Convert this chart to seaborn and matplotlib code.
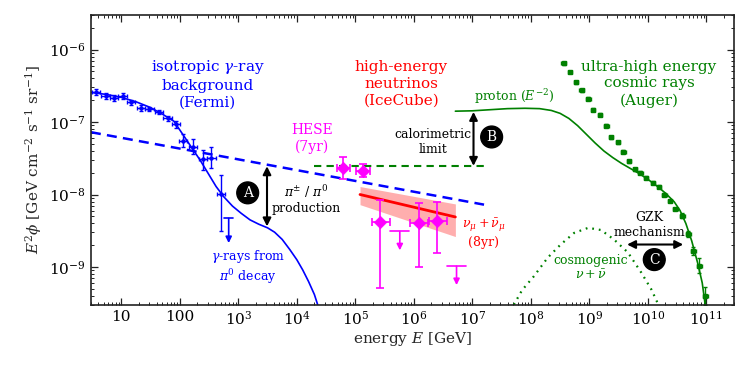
"""
Multi-messenger spectra: Fermi gamma-rays, IceCube neutrinos, Auger UHECRs.
Output: out.png
"""

import numpy as np
import matplotlib
matplotlib.use("Agg")
import matplotlib.pyplot as plt
import matplotlib.ticker as mticker
import seaborn as sns

# ── Style ─────────────────────────────────────────────────
sns.set_theme(style="ticks")
plt.rcParams["font.family"] = ["DejaVu Serif"]
plt.rcParams["mathtext.fontset"] = "dejavuserif"

BLUE = "#0000ff"
RED = "#ff0000"
MAGENTA = "#ff00ff"
GREEN = "#008000"

# ─────────────────────────────────────────────────────────
# DATA  (all values are log10 E [GeV] and log10 E^2 phi)
# ─────────────────────────────────────────────────────────
# Fermi isotropic gamma-ray background
fermi_logE = [0.57, 0.73, 0.88, 1.02, 1.17, 1.33, 1.48, 1.64, 1.79, 1.94,
              2.06, 2.22, 2.39, 2.54, 2.70]
fermi_logY = [-6.59, -6.64, -6.67, -6.64, -6.73, -6.81, -6.82, -6.86, -6.95, -7.03,
              -7.26, -7.34, -7.51, -7.49, -7.99]
fermi_up = [0.04, 0.04, 0.04, 0.04, 0.04, 0.04, 0.03, 0.03, 0.04, 0.05,
            0.10, 0.10, 0.12, 0.14, 0.26]
fermi_dn = [0.04, 0.04, 0.04, 0.04, 0.04, 0.04, 0.03, 0.03, 0.04, 0.05,
            0.09, 0.10, 0.15, 0.14, 0.52]
fermi_ul_logE = [2.835]
fermi_ul_logY = [-8.33]

fermi_model_logE = [0.48, 0.75, 1.0, 1.25, 1.5, 1.7, 1.9, 2.0, 2.1, 2.2, 2.35, 2.5,
                    2.62, 2.75, 2.9, 3.05, 3.2, 3.35, 3.5, 3.62, 3.75, 3.88, 4.0,
                    4.1, 4.2, 4.3, 4.36]
fermi_model_logY = [-6.59, -6.62, -6.66, -6.72, -6.80, -6.89, -6.99, -7.11, -7.23,
                    -7.35, -7.53, -7.73, -7.89, -8.03, -8.16, -8.26, -8.35, -8.41,
                    -8.46, -8.52, -8.62, -8.76, -8.90, -9.04, -9.20, -9.38, -9.53]

# neutrino power law (pi+- / pi0 production) and calorimetric limit
pion_logE = [0.48, 7.2]
pion_logY = [-7.14, -8.14]
calo_logE = [4.3, 7.28]
calo_logY = [-7.605, -7.605]

# IceCube muon neutrinos (8yr)
numu_logE = [5.08, 6.71]
numu_logY = [-8.00, -8.31]
numu_hi = [-7.89, -8.13]
numu_lo = [-8.14, -8.58]

# IceCube HESE (7yr)
hese_logE = [4.79, 5.13, 5.43, 6.09, 6.40]
hese_logY = [-7.633, -7.674, -8.376, -8.389, -8.362]
hese_up = [0.15, 0.10, 0.30, 0.27, 0.26]
hese_dn = [0.15, 0.08, 0.91, 0.61, 0.45]
hese_xlo = [0.10, 0.12, 0.14, 0.15, 0.14]
hese_xhi = [0.12, 0.12, 0.17, 0.16, 0.17]
hese_ul_logE = [5.76, 6.73]
hese_ul_logY = [-8.51, -8.99]

# Auger UHECR spectrum
auger_logE = [8.56, 8.67, 8.77, 8.87, 8.98, 9.06, 9.18, 9.29, 9.37, 9.49, 9.58,
              9.68, 9.78, 9.87, 9.97, 10.09, 10.19, 10.28, 10.38, 10.47, 10.59,
              10.69, 10.78, 10.88, 10.98]
auger_logY = [-6.19, -6.31, -6.45, -6.56, -6.68, -6.83, -6.90, -7.05, -7.21, -7.28,
              -7.41, -7.54, -7.65, -7.70, -7.77, -7.84, -7.89, -8.00, -8.09, -8.20,
              -8.29, -8.55, -8.78, -8.98, -9.40]
auger_err = [0.02] * 20 + [0.03, 0.04, 0.05, 0.10, 0.12]

# proton (E^-2) model and cosmogenic neutrinos
proton_logE = [6.71, 7.0, 7.3, 7.6, 7.9, 8.15, 8.35, 8.5, 8.65, 8.8, 8.95, 9.1,
               9.25, 9.4, 9.55, 9.7, 9.85, 10.0, 10.15, 10.3, 10.45, 10.55, 10.65,
               10.75, 10.85, 10.93, 10.98]
proton_logY = [-6.85, -6.845, -6.83, -6.815, -6.81, -6.815, -6.84, -6.88, -6.95,
               -7.05, -7.17, -7.29, -7.40, -7.49, -7.57, -7.64, -7.71, -7.79, -7.88,
               -7.98, -8.10, -8.22, -8.40, -8.64, -8.94, -9.22, -9.52]
cosmo_logE = [7.71, 7.85, 8.05, 8.29, 8.51, 8.74, 8.98, 9.2, 9.42, 9.66, 9.89,
              10.06, 10.18]
cosmo_logY = [-9.52, -9.32, -9.13, -8.87, -8.69, -8.53, -8.46, -8.49, -8.62, -8.80,
              -9.08, -9.31, -9.52]

X_TICKS = [1, 2, 3, 4, 5, 6, 7, 8, 9, 10, 11]
X_LABELS = ["10", "100"] + [rf"$10^{{{k}}}$" for k in range(3, 12)]
Y_TICKS = [-9, -8, -7, -6]
Y_LABELS = [rf"$10^{{{k}}}$" for k in Y_TICKS]


def p(v):
    return 10.0 ** np.asarray(v, dtype=float)


# ─────────────────────────────────────────────────────────
# PLOT
# ─────────────────────────────────────────────────────────
fig = plt.figure(figsize=(7.5, 3.75), dpi=100)
ax = fig.add_axes([0.121, 0.187, 0.858, 0.773])
ax.set_xscale("log")
ax.set_yscale("log")

# Fermi
sns.lineplot(x=p(fermi_model_logE), y=p(fermi_model_logY), ax=ax, color=BLUE,
             lw=1.2, sort=False, estimator=None)
fx = np.array(fermi_logE)
fy = np.array(fermi_logY)
ax.errorbar(p(fx), p(fy),
            yerr=[p(fy) - p(fy - np.array(fermi_dn)), p(fy + np.array(fermi_up)) - p(fy)],
            xerr=[p(fx) - p(fx - 0.07), p(fx + 0.07) - p(fx)],
            fmt="o", ms=2.2, color=BLUE, lw=1.0, capsize=1.5, capthick=1.0)
for le, ly in zip(fermi_ul_logE, fermi_ul_logY):
    ax.plot(p([le - 0.08, le + 0.08]), p([ly, ly]), color=BLUE, lw=1.2)
    ax.annotate("", xy=(p(le), p(ly - 0.34)), xytext=(p(le), p(ly)),
                arrowprops=dict(arrowstyle="-|>", color=BLUE, lw=1.2,
                                mutation_scale=9, shrinkA=0, shrinkB=0))

# power law and calorimetric limit
sns.lineplot(x=p(pion_logE), y=p(pion_logY), ax=ax, color=BLUE, lw=1.8,
             linestyle=(0, (4, 2.5)), sort=False, estimator=None)
sns.lineplot(x=p(calo_logE), y=p(calo_logY), ax=ax, color=GREEN, lw=1.5,
             linestyle=(0, (3.5, 2.5)), sort=False, estimator=None)

# IceCube numu band
ax.fill_between(p(numu_logE), p(numu_lo), p(numu_hi), color="#ff9a9a",
                alpha=0.8, lw=0)
sns.lineplot(x=p(numu_logE), y=p(numu_logY), ax=ax, color=RED, lw=2,
             sort=False, estimator=None)

# HESE
hx = np.array(hese_logE)
hy = np.array(hese_logY)
ax.errorbar(p(hx), p(hy),
            yerr=[p(hy) - p(hy - np.array(hese_dn)), p(hy + np.array(hese_up)) - p(hy)],
            xerr=[p(hx) - p(hx - np.array(hese_xlo)), p(hx + np.array(hese_xhi)) - p(hx)],
            fmt="none", ecolor=MAGENTA, lw=1.2, capsize=3, capthick=1.2)
sns.scatterplot(x=p(hx), y=p(hy), ax=ax, marker="D", s=40, color=MAGENTA,
                edgecolor=MAGENTA, zorder=5)
for le, ly in zip(hese_ul_logE, hese_ul_logY):
    ax.plot(p([le - 0.16, le + 0.16]), p([ly, ly]), color=MAGENTA, lw=1.2)
    ax.annotate("", xy=(p(le), p(ly - 0.26)), xytext=(p(le), p(ly)),
                arrowprops=dict(arrowstyle="-|>", color=MAGENTA, lw=1.2,
                                mutation_scale=9, shrinkA=0, shrinkB=0))

# Auger and models
sns.lineplot(x=p(proton_logE), y=p(proton_logY), ax=ax, color=GREEN, lw=1.2,
             sort=False, estimator=None)
sns.lineplot(x=p(cosmo_logE), y=p(cosmo_logY), ax=ax, color=GREEN, lw=1.6,
             linestyle=(0, (0.8, 2.2)), sort=False, estimator=None)
gx = np.array(auger_logE)
gy = np.array(auger_logY)
ge = np.array(auger_err)
ax.errorbar(p(gx), p(gy), yerr=[p(gy) - p(gy - ge), p(gy + ge) - p(gy)],
            xerr=[p(gx) - p(gx - 0.04), p(gx + 0.04) - p(gx)],
            fmt="s", ms=3.2, color=GREEN, lw=1.0, capsize=1.5, capthick=1.0)

# ── Arrows & markers ─────────────────────────────────────
arrow = dict(arrowstyle="<|-|>", color="black", lw=1.5, mutation_scale=12,
             shrinkA=0, shrinkB=0)
ax.annotate("", xy=(p(3.49), p(-7.61)), xytext=(p(3.49), p(-8.44)), arrowprops=arrow)
ax.annotate("", xy=(p(7.02), p(-6.86)), xytext=(p(7.02), p(-7.605)), arrowprops=arrow)
ax.annotate("", xy=(p(9.645), p(-8.69)), xytext=(p(10.605), p(-8.69)), arrowprops=arrow)

circ = dict(boxstyle="circle,pad=0.28", fc="black", ec="black")
for lbl, le, ly in [("A", 3.16, -7.977), ("B", 7.33, -7.206), ("C", 10.11, -8.898)]:
    ax.text(p(le), p(ly), lbl, color="white", fontsize=10, ha="center",
            va="center", bbox=circ)

# ── Texts ────────────────────────────────────────────────
big = dict(ha="center", va="center", fontsize=11, linespacing=1.25)
small = dict(ha="center", va="center", fontsize=9, linespacing=1.2)
ax.text(p(2.475), p(-6.47), "isotropic $\\gamma$-ray\nbackground\n(Fermi)",
        color=BLUE, **big)
ax.text(p(5.786), p(-6.47), "high-energy\nneutrinos\n(IceCube)", color=RED, **big)
ax.text(p(10.02), p(-6.47), "ultra-high energy\ncosmic rays\n(Auger)", color=GREEN, **big)
ax.text(p(4.26), p(-7.227), "HESE\n(7yr)", color=MAGENTA, ha="center",
        va="center", fontsize=10, linespacing=1.2)
ax.text(p(6.334), p(-7.27), "calorimetric\nlimit", color="black", **small)
ax.text(p(7.707), p(-6.642), "proton ($E^{-2}$)", color=GREEN, **small)
ax.text(p(4.156), p(-8.06), "$\\pi^{\\pm}$ / $\\pi^{0}$\nproduction", color="black", **small)
ax.text(p(3.161), p(-9.0), "$\\gamma$-rays from\n$\\pi^{0}$ decay", color=BLUE, **small)
ax.text(p(7.19), p(-8.534), "$\\nu_\\mu + \\bar{\\nu}_\\mu$\n(8yr)", color=RED, **small)
ax.text(p(10.02), p(-8.417), "GZK\nmechanism", color="black", **small)
ax.text(p(9.027), p(-9.015), "cosmogenic\n$\\nu + \\bar{\\nu}$", color=GREEN, **small)

# ── Axes ─────────────────────────────────────────────────
ax.set_xlim(3, 3e11)
ax.set_ylim(3e-10, 3e-6)
ax.xaxis.set_major_locator(mticker.FixedLocator(p(X_TICKS)))
ax.xaxis.set_major_formatter(mticker.FixedFormatter(X_LABELS))
ax.yaxis.set_major_locator(mticker.FixedLocator(p(Y_TICKS)))
ax.yaxis.set_major_formatter(mticker.FixedFormatter(Y_LABELS))
ax.xaxis.set_minor_locator(mticker.LogLocator(base=10, subs=np.arange(2, 10), numticks=100))
ax.yaxis.set_minor_locator(mticker.LogLocator(base=10, subs=np.arange(2, 10), numticks=100))
ax.xaxis.set_minor_formatter(mticker.NullFormatter())
ax.yaxis.set_minor_formatter(mticker.NullFormatter())
ax.tick_params(which="both", direction="in", top=True, right=True, colors="#222222",
               labelcolor="black", labelsize=11)
ax.tick_params(which="major", length=5, width=0.9)
ax.tick_params(which="minor", length=2.5, width=0.7)
for s in ax.spines.values():
    s.set_color("#222222")
    s.set_linewidth(1.2)
ax.set_xlabel("energy $E$ [GeV]", fontsize=11, labelpad=2)
ax.set_ylabel("$E^2\\phi$ [GeV cm$^{-2}$ s$^{-1}$ sr$^{-1}$]", fontsize=11, labelpad=4)

fig.savefig("out.png", dpi=100)
